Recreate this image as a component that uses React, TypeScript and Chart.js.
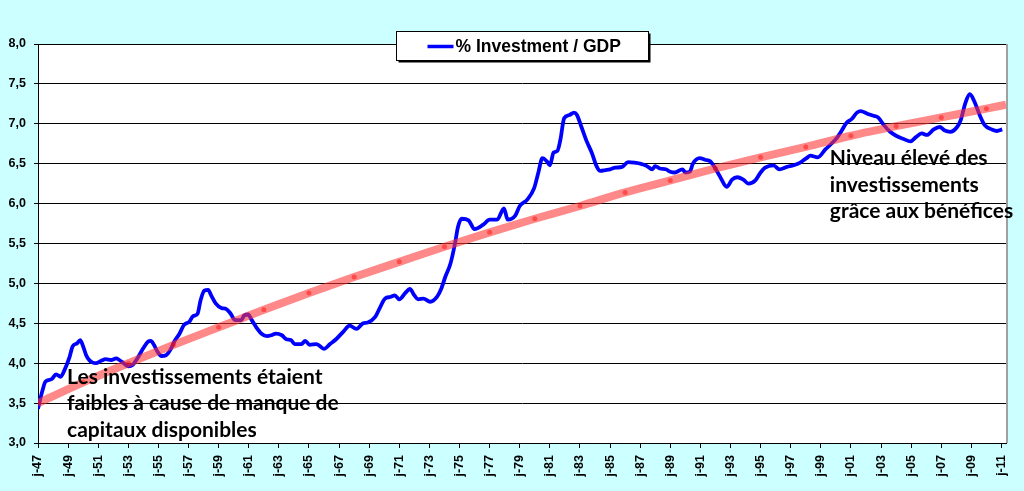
import { useEffect, useRef } from 'react';
import { Chart, registerables } from 'chart.js';

Chart.register(...registerables);

// % investment / GDP (decimal year, value)
const INV_YEARS = [
  1947.0, 1947.3, 1947.5, 1947.9, 1948.2, 1948.5, 1948.75, 1949.1, 1949.3, 1949.6,
  1949.8, 1950.0, 1950.2, 1950.4, 1950.6, 1950.85, 1951.2, 1951.5, 1951.85, 1952.2,
  1952.4, 1952.7, 1953.0, 1953.3, 1953.6, 1954.0, 1954.3, 1954.5, 1954.7, 1954.95,
  1955.2, 1955.5, 1955.8, 1956.05, 1956.4, 1956.7, 1957.05, 1957.3, 1957.6, 1957.8,
  1958.05, 1958.3, 1958.5, 1958.8, 1959.2, 1959.5, 1959.8, 1960.1, 1960.3, 1960.5,
  1960.7, 1960.95, 1961.2, 1961.5, 1961.85, 1962.2, 1962.5, 1962.8, 1963.2, 1963.5,
  1963.8, 1964.05, 1964.5, 1964.75, 1965.05, 1965.5, 1966.0, 1966.4, 1966.8, 1967.3,
  1967.7, 1968.15, 1968.6, 1968.9, 1969.4, 1969.7, 1970.05, 1970.4, 1970.7, 1971.0,
  1971.4, 1971.7, 1972.0, 1972.25, 1972.6, 1973.05, 1973.5, 1973.8, 1974.05, 1974.4,
  1974.7, 1974.9, 1975.15, 1975.6, 1976.0, 1976.6, 1977.0, 1977.5, 1977.95, 1978.2,
  1978.7, 1979.0, 1979.5, 1979.95, 1980.25, 1980.5, 1980.8, 1981.0, 1981.25, 1981.5,
  1981.7, 1981.95, 1982.3, 1982.6, 1982.8, 1983.1, 1983.45, 1983.8, 1984.1, 1984.35,
  1984.7, 1985.0, 1985.35, 1985.8, 1986.2, 1986.7, 1987.0, 1987.45, 1987.8, 1988.0,
  1988.3, 1988.7, 1989.0, 1989.3, 1989.8, 1990.0, 1990.3, 1990.5, 1990.95, 1991.3,
  1991.65, 1992.0, 1992.3, 1992.75, 1993.1, 1993.45, 1993.85, 1994.2, 1994.65, 1995.0,
  1995.3, 1995.85, 1996.25, 1996.75, 1997.2, 1997.6, 1998.05, 1998.3, 1998.8, 1999.3,
  1999.7, 2000.05, 2000.4, 2000.7, 2001.05, 2001.4, 2001.65, 2002.05, 2002.5, 2002.8,
  2003.2, 2003.6, 2004.0, 2004.5, 2004.95, 2005.3, 2005.7, 2006.05, 2006.5, 2006.9,
  2007.2, 2007.6, 2008.05, 2008.3, 2008.6, 2008.9, 2009.2, 2009.55, 2009.9, 2010.35,
  2010.7, 2011.05,
];

const INV_VALUES = [
  3.43, 3.66, 3.77, 3.80, 3.86, 3.83, 3.91, 4.08, 4.21, 4.25,
  4.29, 4.21, 4.10, 4.04, 4.01, 4.00, 4.03, 4.05, 4.04, 4.06,
  4.04, 4.00, 3.96, 3.98, 4.06, 4.19, 4.27, 4.28, 4.23, 4.14,
  4.09, 4.10, 4.17, 4.27, 4.37, 4.48, 4.52, 4.59, 4.62, 4.79,
  4.91, 4.92, 4.85, 4.75, 4.69, 4.68, 4.62, 4.54, 4.54, 4.54,
  4.60, 4.61, 4.54, 4.45, 4.37, 4.34, 4.35, 4.37, 4.35, 4.30,
  4.29, 4.24, 4.24, 4.28, 4.23, 4.24, 4.18, 4.24, 4.30, 4.40,
  4.47, 4.43, 4.50, 4.51, 4.58, 4.69, 4.81, 4.83, 4.85, 4.80,
  4.88, 4.93, 4.85, 4.80, 4.81, 4.77, 4.83, 4.94, 5.08, 5.25,
  5.50, 5.71, 5.81, 5.79, 5.68, 5.74, 5.80, 5.80, 5.94, 5.80,
  5.85, 5.97, 6.05, 6.19, 6.40, 6.57, 6.53, 6.48, 6.64, 6.66,
  6.80, 7.07, 7.11, 7.14, 7.11, 6.96, 6.78, 6.63, 6.47, 6.41,
  6.42, 6.43, 6.45, 6.46, 6.52, 6.51, 6.50, 6.47, 6.43, 6.47,
  6.44, 6.43, 6.40, 6.39, 6.43, 6.39, 6.40, 6.50, 6.57, 6.55,
  6.53, 6.44, 6.34, 6.21, 6.30, 6.33, 6.30, 6.25, 6.29, 6.39,
  6.45, 6.48, 6.43, 6.46, 6.48, 6.51, 6.57, 6.60, 6.58, 6.68,
  6.75, 6.82, 6.92, 7.01, 7.06, 7.14, 7.16, 7.13, 7.10, 7.08,
  6.98, 6.90, 6.85, 6.81, 6.78, 6.83, 6.88, 6.86, 6.93, 6.96,
  6.92, 6.90, 6.96, 7.05, 7.26, 7.37, 7.28, 7.11, 6.98, 6.93,
  6.91, 6.93,
];

// trend curve, read every three years (dots), plus its right end
const TREND_YEARS = [
  1947, 1950, 1953, 1956, 1959, 1962, 1965, 1968, 1971, 1974, 1977,
  1980, 1983, 1986, 1989, 1992, 1995, 1998, 2001, 2004, 2007, 2010, 2011.3,
];
const TREND_VALUES = [
  3.50, 3.76, 4.00, 4.23, 4.45, 4.67, 4.88, 5.08, 5.27, 5.46, 5.64,
  5.81, 5.97, 6.14, 6.29, 6.44, 6.58, 6.71, 6.85, 6.97, 7.08, 7.19, 7.24,
];

const TICK_LABELS = [
  'j-47', 'j-49', 'j-51', 'j-53', 'j-55', 'j-57', 'j-59', 'j-61', 'j-63', 'j-65', 'j-67',
  'j-69', 'j-71', 'j-73', 'j-75', 'j-77', 'j-79', 'j-81', 'j-83', 'j-85', 'j-87', 'j-89',
  'j-91', 'j-93', 'j-95', 'j-97', 'j-99', 'j-01', 'j-03', 'j-05', 'j-07', 'j-09', 'j-11',
];
const FIRST_YEAR = 1947;

const LEGEND_LABEL = '% Investment / GDP';
const NOTE_LOW = ['Les investissements étaient', 'faibles à cause de manque de', 'capitaux disponibles'];
const NOTE_HIGH = ['Niveau élevé des', 'investissements', 'grâce aux bénéfices'];

const AXIS_FONT = 'Arial, "Liberation Sans", sans-serif';
const NOTE_FONT = 'Lato, "Open Sans", sans-serif';

const decorPlugin = {
  id: 'decor',
  beforeDraw(chart: any) {
    const { ctx, chartArea: a } = chart;
    ctx.save();
    ctx.fillStyle = '#ffffff';
    ctx.fillRect(a.left, a.top, a.right - a.left, a.bottom - a.top);
    ctx.restore();
  },
  afterDraw(chart: any) {
    const { ctx, chartArea: a, scales } = chart;
    ctx.save();
    // right edge of the plot
    ctx.strokeStyle = '#a0a0a0';
    ctx.lineWidth = 2;
    ctx.beginPath();
    ctx.moveTo(a.right + 1, a.top);
    ctx.lineTo(a.right + 1, a.bottom);
    ctx.stroke();

    // notes
    ctx.fillStyle = '#000';
    ctx.font = `bold 21px ${NOTE_FONT}`;
    ctx.textBaseline = 'middle';
    ctx.textAlign = 'left';
    const x1 = scales.x.getPixelForValue(1948.93);
    const y1 = scales.y.getPixelForValue(3.83);
    NOTE_LOW.forEach((t, i) => ctx.fillText(t, x1, y1 + i * 26.7));
    const x2 = scales.x.getPixelForValue(1999.6);
    const y2 = scales.y.getPixelForValue(6.57);
    NOTE_HIGH.forEach((t, i) => ctx.fillText(t, x2, y2 + i * 26.7));

    // legend box
    const w = 252;
    const h = 29;
    const lx = Math.round((a.left + a.right) / 2 - w / 2) + 0.5;
    const ly = Math.round(a.top - 13) + 0.5;
    ctx.fillStyle = '#000';
    ctx.fillRect(lx + 2, ly + 2, w, h);
    ctx.fillStyle = '#fff';
    ctx.fillRect(lx, ly, w, h);
    ctx.strokeStyle = '#000';
    ctx.lineWidth = 1;
    ctx.strokeRect(lx, ly, w, h);
    ctx.strokeStyle = '#0000ff';
    ctx.lineWidth = 3.5;
    ctx.beginPath();
    ctx.moveTo(lx + 31, ly + 15);
    ctx.lineTo(lx + 57, ly + 15);
    ctx.stroke();
    ctx.fillStyle = '#000';
    ctx.font = `bold 17.5px ${AXIS_FONT}`;
    ctx.fillText(LEGEND_LABEL, lx + 59, ly + 15.5);
    ctx.restore();
  },
};

export default function App() {
  const canvasRef = useRef<HTMLCanvasElement>(null);
  const chartRef = useRef<Chart | null>(null);

  useEffect(() => {
    if (!canvasRef.current) return;
    if (chartRef.current) chartRef.current.destroy();

    const invData = INV_YEARS.map((x, i) => ({ x, y: INV_VALUES[i] }));
    const trendData = TREND_YEARS.map((x, i) => ({ x, y: TREND_VALUES[i] }));
    const lastTrend = trendData.length - 1;

    chartRef.current = new Chart(canvasRef.current, {
      type: 'line',
      data: {
        datasets: [
          {
            label: 'Trend',
            data: trendData,
            borderColor: 'rgba(255, 50, 50, 0.58)',
            borderWidth: 8,
            borderCapStyle: 'butt',
            cubicInterpolationMode: 'monotone',
            pointRadius: (c: any) => (c.dataIndex === lastTrend ? 0 : 2.5),
            pointBackgroundColor: 'rgba(255, 0, 0, 0.45)',
            pointBorderWidth: 0,
            order: 0,
          },
          {
            label: LEGEND_LABEL,
            data: invData,
            borderColor: '#0000ff',
            borderWidth: 3.8,
            cubicInterpolationMode: 'monotone',
            pointRadius: 0,
            order: 1,
          },
        ],
      },
      options: {
        animation: false,
        responsive: true,
        maintainAspectRatio: false,
        parsing: false,
        layout: { padding: { top: 44, left: 8, right: 18, bottom: 0 } },
        plugins: {
          legend: { display: false },
          tooltip: { enabled: false },
        },
        scales: {
          x: {
            type: 'linear',
            min: FIRST_YEAR,
            max: 2011.3,
            afterBuildTicks: (s: any) => {
              s.ticks = TICK_LABELS.map((_, i) => ({ value: FIRST_YEAR + 2 * i }));
            },
            afterFit: (s: any) => {
              s.height = 48;
            },
            grid: { drawOnChartArea: false, drawTicks: true, tickLength: 5, color: '#000' },
            border: { display: true, color: '#000', width: 1 },
            ticks: {
              autoSkip: false,
              minRotation: 90,
              maxRotation: 90,
              padding: 7,
              color: '#000',
              font: { family: AXIS_FONT, size: 12.5, weight: 'bold' },
              callback: (v: any) => TICK_LABELS[Math.round((Number(v) - FIRST_YEAR) / 2)] ?? '',
            },
          },
          y: {
            min: 3,
            max: 8,
            afterFit: (s: any) => {
              s.width = 30;
            },
            grid: { color: '#000', lineWidth: 1, tickLength: 4 },
            border: { display: true, color: '#000', width: 1 },
            ticks: {
              stepSize: 0.5,
              padding: 8,
              color: '#000',
              font: { family: AXIS_FONT, size: 12.5, weight: 'bold' },
              callback: (v: any) => Number(v).toFixed(1).replace('.', ','),
            },
          },
        },
      },
      plugins: [decorPlugin],
    } as any);

    return () => {
      chartRef.current?.destroy();
      chartRef.current = null;
    };
  }, []);

  return (
    <div style={{ position: 'fixed', left: 0, top: 0, width: 1024, height: 491, background: '#ccffff' }}>
      <canvas ref={canvasRef} />
    </div>
  );
}
